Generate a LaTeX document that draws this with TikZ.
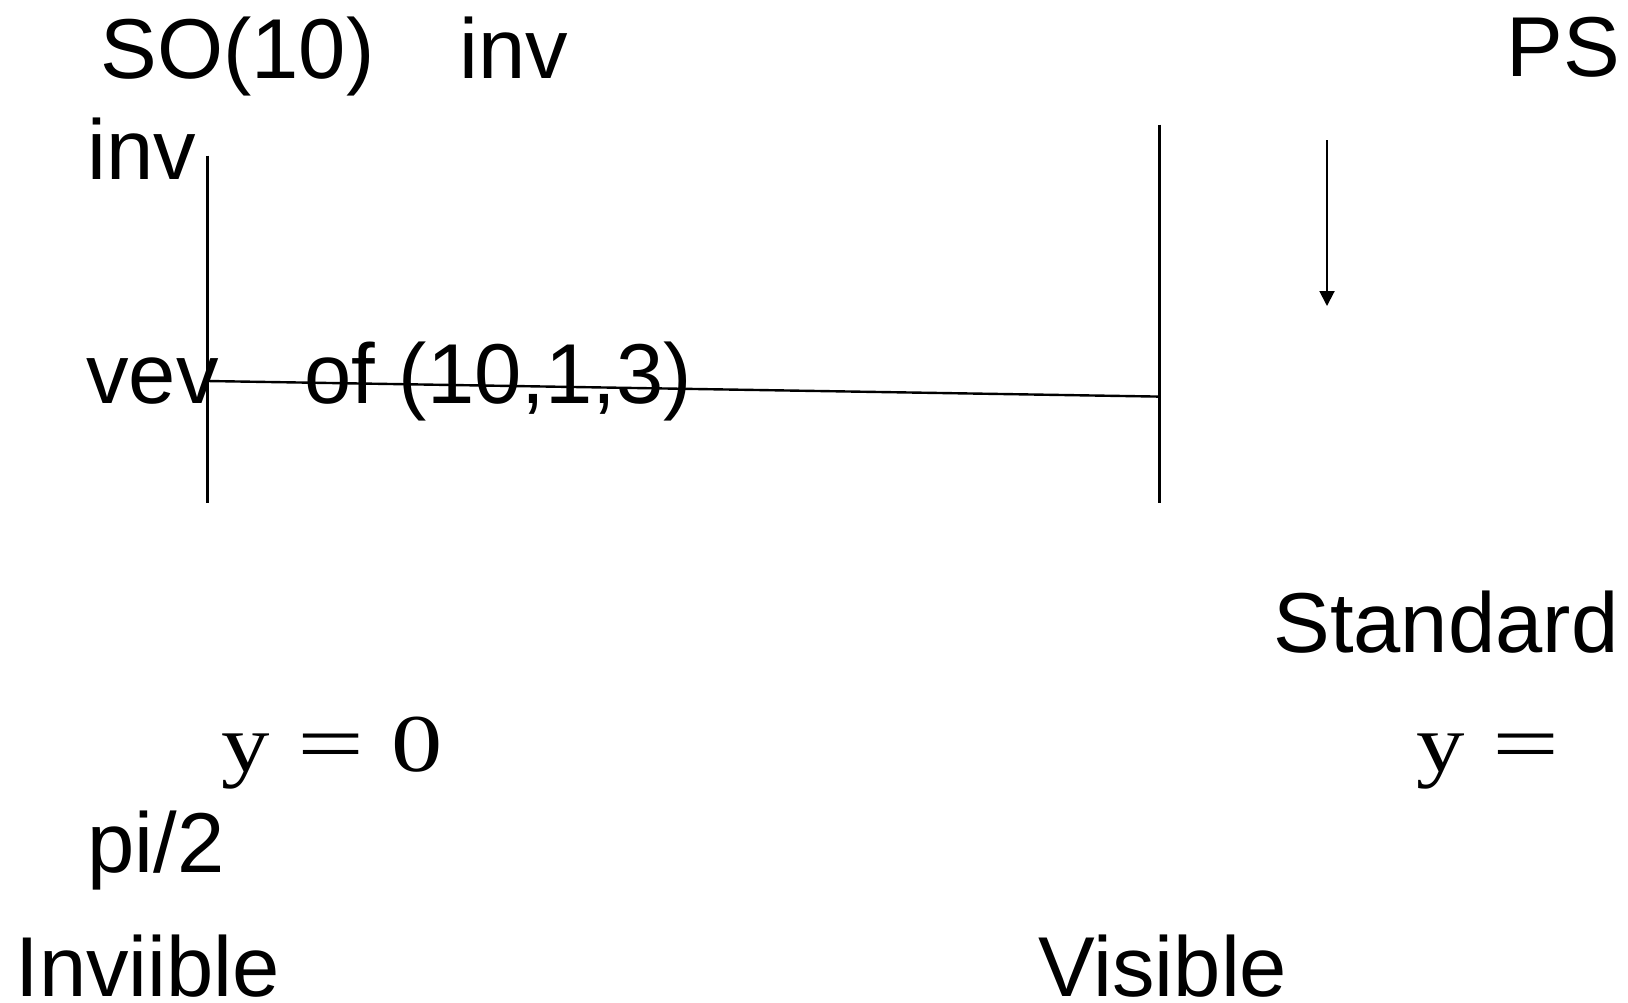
\documentclass[tikz,border=0pt]{standalone}
\usepackage{fontspec}
\setmainfont{Liberation Sans}
\newfontfamily\serifface{Liberation Serif}
\usetikzlibrary{arrows.meta}
\begin{document}
\begin{tikzpicture}[x=0.5pt,y=-0.5pt,
  lbl/.style={anchor=base west,inner sep=0pt,font=\fontsize{42.5pt}{50pt}\selectfont},
  mlbl/.style={anchor=base west,inner sep=0pt,font=\serifface\fontsize{41pt}{48pt}\selectfont},
  bar/.style={line width=1.4pt},
  link/.style={line width=1.2pt},
  pointer/.style={line width=1pt,-{Triangle[length=7.5pt,width=7.5pt]}}]
\useasboundingbox (0,0) rectangle (1628,1002);
% texts
\node[lbl] (so) at (100,78) {SO(10)};
\node[lbl] (inv1) at (459,78) {inv};
\node[lbl] (ps) at (1506,76) {PS};
\node[lbl] (inv2) at (87,179) {inv};
\node[lbl] (vev) at (86,403) {vev};
\node[lbl] (of) at (304,403) {of (10,1,3)};
\node[lbl] (std) at (1273,652) {Standard};
\node[mlbl] (y0) at (221,771.5) {\scalebox{1.18}[1]{y}\hspace{13.9pt}\scalebox{1.45}[1]{=}\hspace{13.2pt}\scalebox{1.25}[1]{0}};
\node[mlbl] (y1) at (1416,771.5) {\scalebox{1.18}[1]{y}\hspace{13.9pt}\scalebox{1.45}[1]{=}};
\node[lbl] (pi) at (87,872) {pi/2};
\node[lbl] (invis) at (15,996) {Inviible};
\node[lbl] (vis) at (1038,996) {Visible};
% lines
\coordinate (lt) at (207.7,155.7);
\coordinate (lb) at (207.7,502.5);
\coordinate (rt) at (1159.8,124.6);
\coordinate (rb) at (1159.8,502.5);
\coordinate (lm) at (207.7,381);
\coordinate (rm) at (1159.8,396.6);
\coordinate (at) at (1327,140);
\coordinate (ab) at (1327,306);
\draw[bar] (lt) -- (lb);
\draw[bar] (rt) -- (rb);
\draw[link] (lm) -- (rm);
\draw[pointer] (at) -- (ab);
\end{tikzpicture}
\end{document}
